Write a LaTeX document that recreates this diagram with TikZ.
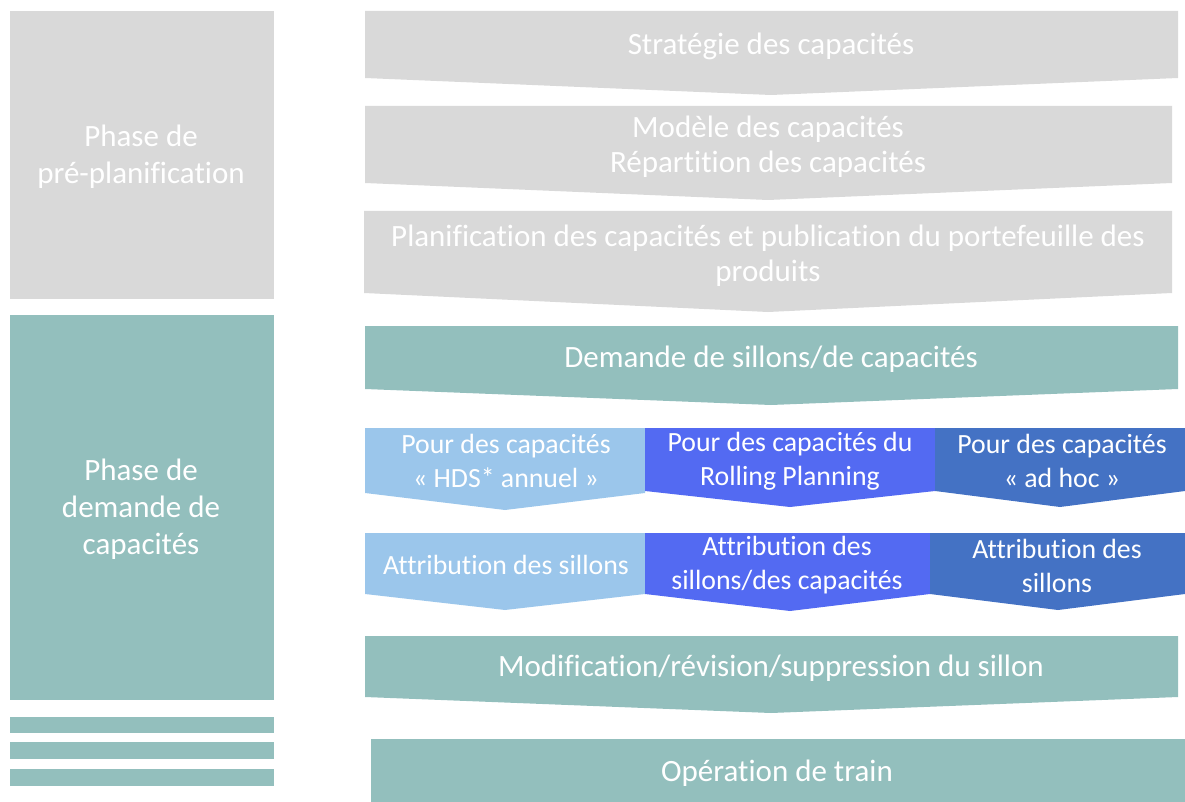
\documentclass[tikz,border=0pt]{standalone}
\usepackage{fontspec}
\setmainfont{Carlito}[Ligatures={NoCommon}]
\definecolor{cgray}{HTML}{D9D9D9}
\definecolor{cteal}{HTML}{93BFBD}
\definecolor{clight}{HTML}{9BC6EB}
\definecolor{cblue}{HTML}{536AF2}
\definecolor{cdark}{HTML}{4472C4}
\newcommand{\mychev}[7]{% x1 x2 top bodybottom tipy tipx color
  \fill[#7] (#1,#3) -- (#2,#3) -- (#2,#4) -- (#6,#5) -- (#1,#4) -- cycle;}
\tikzset{
  lbl/.style={text=white, align=center, font=\fontsize{31}{35}\selectfont, inner sep=0pt, yshift=-2pt},
  slbl/.style={text=white, align=center, font=\fontsize{27.8}{34}\selectfont, inner sep=0pt, yshift=-1.5pt},
  llbl/.style={text=white, align=center, font=\fontsize{31}{37}\selectfont, inner sep=0pt, yshift=-2pt}
}
\begin{document}
\begin{tikzpicture}[x=1pt,y=-1pt]
\useasboundingbox (0,0) rectangle (1185,802);
% left column
\fill[cgray] (10,11) rectangle (274,299);
\fill[cteal] (10,315) rectangle (274,700);
\fill[cteal] (10,717) rectangle (274,733);
\fill[cteal] (10,742) rectangle (274,759);
\fill[cteal] (10,769) rectangle (274,786);
\node[llbl] (pre) at (141,155) {Phase de\\pré-planification};
\node[llbl] (dem) at (141,507.5) {Phase de\\demande de\\capacités};
% right column
\mychev{365}{1178}{11}{78}{95}{771}{cgray}
\node[lbl] (strat) at (771,44.5) {Stratégie des capacités};
\mychev{365}{1172}{106}{183}{200}{768}{cgray}
\node[lbl] (mod) at (768,144.5) {Modèle des capacités\\Répartition des capacités};
\mychev{364}{1172}{211}{293}{312}{768}{cgray}
\node[lbl] (plan) at (768,254) {Planification des capacités et publication du portefeuille des\\produits};
\mychev{365}{1178}{326}{389}{405}{771}{cteal}
\node[lbl] (dsc) at (771,357.5) {Demande de sillons/de capacités};
% split rows
\mychev{365}{645}{428}{493}{510}{505}{clight}
\mychev{645}{935}{428}{491}{507}{790}{cblue}
\mychev{935}{1185}{428}{491}{507}{1060}{cdark}
\node[slbl] (p1) at (506,459.5) {Pour des capacités\\« HDS* annuel »};
\node[slbl] (p2) at (790,459.5) {Pour des capacités du\\Rolling Planning};
\node[slbl] (p3) at (1062,459.5) {Pour des capacités\\« ad hoc »};
\mychev{365}{645}{533}{594}{610}{505}{clight}
\mychev{645}{930}{533}{594}{611}{790}{cblue}
\mychev{930}{1185}{533}{594}{610}{1058}{cdark}
\node[slbl] (a1) at (506,563.5) {Attribution des sillons};
\node[slbl] (a2) at (787,564) {Attribution des\\sillons/des capacités};
\node[slbl] (a3) at (1057,564) {Attribution des\\sillons};
\mychev{365}{1178}{636}{697}{713}{771}{cteal}
\node[lbl] (modif) at (771,666.5) {Modification/révision/suppression du sillon};
\fill[cteal] (371,739) rectangle (1185,802);
\node[lbl] (op) at (777,771) {Opération de train};
\end{tikzpicture}
\end{document}
